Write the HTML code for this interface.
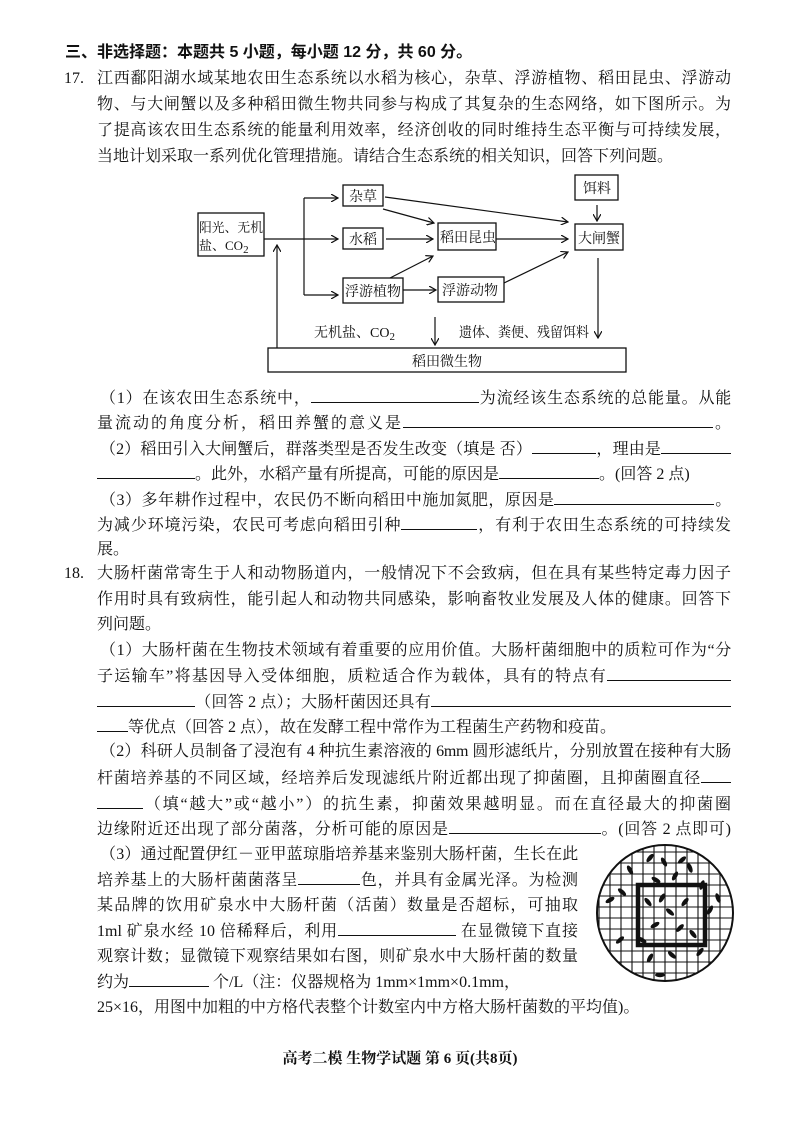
<!DOCTYPE html>
<html><head><meta charset="utf-8">
<style>
html,body{margin:0;padding:0;background:#fff;}
body{width:800px;height:1131px;position:relative;overflow:hidden;color:#111;
font-family:"Liberation Serif","Noto Serif CJK SC","Noto Sans CJK SC",serif;font-size:16px;}
.l{position:absolute;left:97px;width:634px;height:20px;line-height:20px;white-space:nowrap;}
.j{text-align:justify;text-align-last:justify;}
.b{display:inline-block;border-bottom:1px solid #111;height:14px;vertical-align:baseline;}
.n{position:absolute;left:64px;line-height:20px;}
.t{letter-spacing:-0.3px;}
</style></head><body>
<div class="l" style="left:65px;top:43px;font-weight:bold;font-family:'Liberation Sans','Noto Sans CJK SC',sans-serif;">三、非选择题：本题共 5 小题，每小题 12 分，共 60 分。</div>
<div class="n" style="top:69px">17.</div>
<div class="l j" style="top:69px">江西鄱阳湖水域某地农田生态系统以水稻为核心，杂草、浮游植物、稻田昆虫、浮游动</div>
<div class="l j" style="top:95px">物、与大闸蟹以及多种稻田微生物共同参与构成了其复杂的生态网络，如下图所示。为</div>
<div class="l j" style="top:121px">了提高该农田生态系统的能量利用效率，经济创收的同时维持生态平衡与可持续发展，</div>
<div class="l" style="top:147px">当地计划采取一系列优化管理措施。请结合生态系统的相关知识，回答下列问题。</div>

<svg style="position:absolute;left:0;top:0" width="800" height="400">
<defs><marker id="a" markerWidth="8" markerHeight="8" refX="7" refY="4" orient="auto" markerUnits="userSpaceOnUse"><path d="M0,0 L7,4 L0,8" fill="none" stroke="#111" stroke-width="1.2"/></marker></defs>
<g fill="#fff" stroke="#111" stroke-width="1.3">
<rect x="198" y="213" width="66" height="43"/>
<rect x="343" y="185" width="40" height="21"/>
<rect x="343" y="228" width="40" height="21"/>
<rect x="343" y="278" width="60" height="25"/>
<rect x="438" y="223" width="58" height="27"/>
<rect x="438" y="277" width="66" height="25"/>
<rect x="575" y="175" width="43" height="25"/>
<rect x="575" y="224" width="48" height="26"/>
<rect x="268" y="348" width="358" height="24"/>
</g>
<g stroke="#111" stroke-width="1.2" fill="none">
<line x1="264" y1="239" x2="304" y2="239"/>
<line x1="304" y1="198" x2="304" y2="295"/>
<line x1="304" y1="198" x2="338" y2="198" marker-end="url(#a)"/>
<line x1="304" y1="239" x2="338" y2="239" marker-end="url(#a)"/>
<line x1="304" y1="295" x2="338" y2="295" marker-end="url(#a)"/>
<line x1="277" y1="348" x2="277" y2="245" marker-end="url(#a)"/>
<line x1="385" y1="197" x2="568" y2="222" marker-end="url(#a)"/>
<line x1="383" y1="209" x2="434" y2="223" marker-end="url(#a)"/>
<line x1="386" y1="239" x2="433" y2="239" marker-end="url(#a)"/>
<line x1="390" y1="278" x2="433" y2="256" marker-end="url(#a)"/>
<line x1="403" y1="290" x2="436" y2="290" marker-end="url(#a)"/>
<line x1="496" y1="239" x2="568" y2="239" marker-end="url(#a)"/>
<line x1="504" y1="283" x2="568" y2="252" marker-end="url(#a)"/>
<line x1="597" y1="205" x2="597" y2="221" marker-end="url(#a)"/>
<line x1="435" y1="317" x2="435" y2="345" marker-end="url(#a)"/>
<line x1="598" y1="258" x2="598" y2="338" marker-end="url(#a)"/>
</g>
<g font-family="Liberation Serif,Noto Serif CJK SC,serif" font-size="14" fill="#111">
<text x="199" y="232" font-size="13" textLength="64" lengthAdjust="spacingAndGlyphs">阳光、无机</text>
<text x="199" y="250" font-size="13">盐、CO<tspan font-size="11" dy="3">2</tspan></text>
<text x="349" y="201">杂草</text>
<text x="349" y="244">水稻</text>
<text x="345" y="296">浮游植物</text>
<text x="440" y="242">稻田昆虫</text>
<text x="442" y="295">浮游动物</text>
<text x="583" y="193">饵料</text>
<text x="578" y="243">大闸蟹</text>
<text x="314" y="337">无机盐、CO<tspan font-size="11" dy="3">2</tspan></text>
<text x="459" y="337" textLength="130" lengthAdjust="spacingAndGlyphs">遗体、粪便、残留饵料</text>
<text x="412" y="366">稻田微生物</text>
</g>
</svg>

<div class="l j t" style="left:100px;width:631px;top:388px">（1）在该农田生态系统中，<span class="b" style="width:168px"></span>为流经该生态系统的总能量。从能</div>
<div class="l j" style="top:413px">量流动的角度分析，稻田养蟹的意义是<span class="b" style="width:310px"></span>。</div>
<div class="l j t" style="left:100px;width:631px;top:439px">（2）稻田引入大闸蟹后，群落类型是否发生改变（填是 否）<span class="b" style="width:64px"></span>，理由是<span class="b" style="width:70px"></span></div>
<div class="l" style="top:464px"><span class="b" style="width:98px"></span>。此外，水稻产量有所提高，可能的原因是<span class="b" style="width:100px"></span>。(回答 2 点)</div>
<div class="l j t" style="left:100px;width:631px;top:490px">（3）多年耕作过程中，农民仍不断向稻田中施加氮肥，原因是<span class="b" style="width:160px"></span>。</div>
<div class="l j" style="top:515px">为减少环境污染，农民可考虑向稻田引种<span class="b" style="width:76px"></span>，有利于农田生态系统的可持续发</div>
<div class="l" style="top:540px">展。</div>

<div class="n" style="top:564px">18.</div>
<div class="l j" style="top:564px">大肠杆菌常寄生于人和动物肠道内，一般情况下不会致病，但在具有某些特定毒力因子</div>
<div class="l j" style="top:590px">作用时具有致病性，能引起人和动物共同感染，影响畜牧业发展及人体的健康。回答下</div>
<div class="l" style="top:615px">列问题。</div>
<div class="l j t" style="left:100px;width:631px;top:641px">（1）大肠杆菌在生物技术领域有着重要的应用价值。大肠杆菌细胞中的质粒可作为“分</div>
<div class="l j" style="top:666px">子运输车”将基因导入受体细胞，质粒适合作为载体，具有的特点有<span class="b" style="width:124px"></span></div>
<div class="l j" style="top:692px"><span class="b" style="width:98px"></span>（回答 2 点）；大肠杆菌因还具有<span class="b" style="width:300px"></span></div>
<div class="l" style="top:717px"><span class="b" style="width:31px"></span>等优点（回答 2 点），故在发酵工程中常作为工程菌生产药物和疫苗。</div>
<div class="l j t" style="left:100px;width:631px;top:742px">（2）科研人员制备了浸泡有 4 种抗生素溶液的 6mm 圆形滤纸片，分别放置在接种有大肠</div>
<div class="l j" style="top:768px">杆菌培养基的不同区域，经培养后发现滤纸片附近都出现了抑菌圈，且抑菌圈直径<span class="b" style="width:30px"></span></div>
<div class="l j" style="top:794px"><span class="b" style="width:46px"></span>（填“越大”或“越小”）的抗生素，抑菌效果越明显。而在直径最大的抑菌圈</div>
<div class="l j" style="top:819px">边缘附近还出现了部分菌落，分析可能的原因是<span class="b" style="width:152px"></span>。(回答 2 点即可)</div>
<div class="l j t" style="left:100px;width:478px;top:845px">（3）通过配置伊红－亚甲蓝琼脂培养基来鉴别大肠杆菌，生长在此</div>
<div class="l j" style="width:481px;top:870px">培养基上的大肠杆菌菌落呈<span class="b" style="width:62px"></span>色，并具有金属光泽。为检测</div>
<div class="l j" style="width:481px;top:896px">某品牌的饮用矿泉水中大肠杆菌（活菌）数量是否超标，可抽取</div>
<div class="l j" style="width:481px;top:921px">1ml 矿泉水经 10 倍稀释后，利用<span class="b" style="width:118px"></span> 在显微镜下直接</div>
<div class="l j" style="width:481px;top:947px">观察计数；显微镜下观察结果如右图，则矿泉水中大肠杆菌的数量</div>
<div class="l" style="top:972px">约为<span class="b" style="width:80px"></span> 个/L（注：仪器规格为 1mm×1mm×0.1mm，</div>
<div class="l" style="top:998px">25×16，用图中加粗的中方格代表整个计数室内中方格大肠杆菌数的平均值)。</div>

<svg style="position:absolute;left:590px;top:840px" width="150" height="150">
<defs><clipPath id="c"><circle cx="75" cy="73" r="68"/></clipPath></defs>
<g clip-path="url(#c)" stroke="#111" stroke-width="1.1">
<line x1="9" y1="0" x2="9" y2="150"/><line x1="20" y1="0" x2="20" y2="150"/><line x1="31" y1="0" x2="31" y2="150"/><line x1="42" y1="0" x2="42" y2="150"/><line x1="53" y1="0" x2="53" y2="150"/><line x1="64" y1="0" x2="64" y2="150"/><line x1="75" y1="0" x2="75" y2="150"/><line x1="86" y1="0" x2="86" y2="150"/><line x1="97" y1="0" x2="97" y2="150"/><line x1="108" y1="0" x2="108" y2="150"/><line x1="119" y1="0" x2="119" y2="150"/><line x1="130" y1="0" x2="130" y2="150"/>
<line y1="12" x1="0" y2="12" x2="150"/><line y1="23" x1="0" y2="23" x2="150"/><line y1="34" x1="0" y2="34" x2="150"/><line y1="45" x1="0" y2="45" x2="150"/><line y1="56" x1="0" y2="56" x2="150"/><line y1="67" x1="0" y2="67" x2="150"/><line y1="78" x1="0" y2="78" x2="150"/><line y1="89" x1="0" y2="89" x2="150"/><line y1="100" x1="0" y2="100" x2="150"/><line y1="111" x1="0" y2="111" x2="150"/><line y1="122" x1="0" y2="122" x2="150"/><line y1="133" x1="0" y2="133" x2="150"/>
<rect x="48" y="45" width="67" height="60" fill="none" stroke-width="4.5"/>
<g fill="#111" stroke="none">
<ellipse cx="60" cy="18" rx="5" ry="2.2" transform="rotate(-50 60 18)"/><ellipse cx="74" cy="22" rx="5" ry="2.2" transform="rotate(60 74 22)"/><ellipse cx="92" cy="20" rx="5" ry="2.2" transform="rotate(-40 92 20)"/><ellipse cx="100" cy="28" rx="5" ry="2.2" transform="rotate(70 100 28)"/><ellipse cx="85" cy="36" rx="5" ry="2.2" transform="rotate(-60 85 36)"/><ellipse cx="66" cy="40" rx="5" ry="2.2" transform="rotate(30 66 40)"/><ellipse cx="32" cy="52" rx="5" ry="2.2" transform="rotate(40 32 52)"/><ellipse cx="20" cy="60" rx="5" ry="2.2" transform="rotate(-30 20 60)"/><ellipse cx="58" cy="62" rx="5" ry="2.2" transform="rotate(50 58 62)"/><ellipse cx="72" cy="58" rx="5" ry="2.2" transform="rotate(-60 72 58)"/><ellipse cx="95" cy="62" rx="5" ry="2.2" transform="rotate(-50 95 62)"/><ellipse cx="80" cy="72" rx="5" ry="2.2" transform="rotate(40 80 72)"/><ellipse cx="65" cy="85" rx="5" ry="2.2" transform="rotate(-30 65 85)"/><ellipse cx="90" cy="88" rx="5" ry="2.2" transform="rotate(-45 90 88)"/><ellipse cx="103" cy="94" rx="5" ry="2.2" transform="rotate(50 103 94)"/><ellipse cx="120" cy="70" rx="5" ry="2.2" transform="rotate(-60 120 70)"/><ellipse cx="128" cy="58" rx="5" ry="2.2" transform="rotate(70 128 58)"/><ellipse cx="30" cy="100" rx="5" ry="2.2" transform="rotate(-40 30 100)"/><ellipse cx="15" cy="110" rx="5" ry="2.2" transform="rotate(30 15 110)"/><ellipse cx="60" cy="118" rx="5" ry="2.2" transform="rotate(-60 60 118)"/><ellipse cx="82" cy="115" rx="5" ry="2.2" transform="rotate(40 82 115)"/><ellipse cx="110" cy="112" rx="5" ry="2.2" transform="rotate(-50 110 112)"/><ellipse cx="70" cy="135" rx="5" ry="2.2" transform="rotate(0 70 135)"/><ellipse cx="52" cy="100" rx="5" ry="2.2" transform="rotate(30 52 100)"/><ellipse cx="40" cy="30" rx="5" ry="2.2" transform="rotate(60 40 30)"/><ellipse cx="112" cy="45" rx="5" ry="2.2" transform="rotate(-70 112 45)"/>
</g></g>
<circle cx="75" cy="73" r="68" fill="none" stroke="#111" stroke-width="2"/>
</svg>

<div style="position:absolute;left:0;width:800px;top:1049px;text-align:center;font-size:15px;font-weight:bold;line-height:20px;">高考二模 生物学试题 第 6 页(共8页)</div>
</body></html>
